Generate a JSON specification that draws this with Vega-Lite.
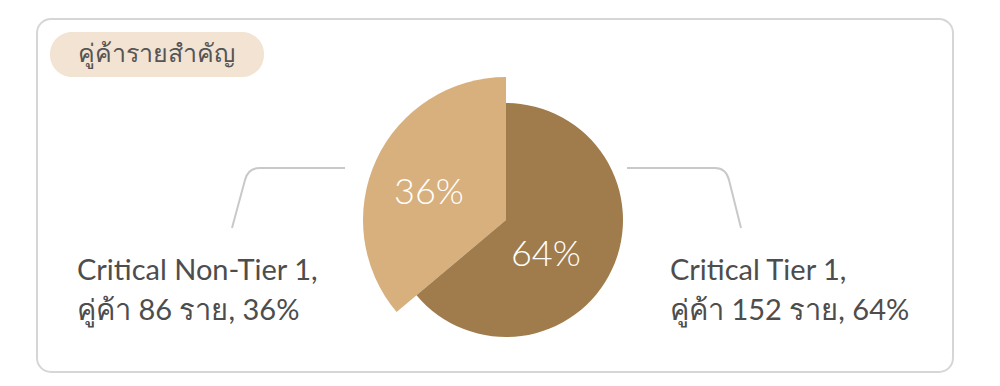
{
  "$schema": "https://vega.github.io/schema/vega-lite/v6.json",
  "autosize": {"type": "none"},
  "width": 916,
  "height": 353,
  "padding": {"left": 37, "top": 19, "right": 47, "bottom": 14},
  "background": "white",
  "view": {"stroke": "#d6d6d6", "strokeWidth": 2, "cornerRadius": 14, "fill": "white"},
  "config": {
    "view": {"stroke": "#d6d6d6", "strokeWidth": 2, "cornerRadius": 14},
    "font": "Lato, Noto Sans, sans-serif"
  },
  "data": {
    "values": [
      {"tier": "Critical Tier 1", "count": 152, "pct": 64},
      {"tier": "Critical Non-Tier 1", "count": 86, "pct": 36}
    ]
  },
  "transform": [
    {"calculate": "datum.pct + '%'", "as": "pctLabel"},
    {"calculate": "[datum.tier + ',', 'คู่ค้า ' + datum.count + ' ราย, ' + datum.pct + '%']", "as": "label"}
  ],
  "layer": [
    {
      "mark": {"type": "point", "shape": "M -0.322 -0.104 L -0.492 -0.104 Q -0.516 -0.104 -0.522 -0.08 L -0.548 0.016 M 0.242 -0.104 L 0.418 -0.104 Q 0.44 -0.104 0.446 -0.08 L 0.47 0.016", "size": 1000000, "filled": false, "stroke": "#c9c9c9", "strokeWidth": 2, "x": {"expr": "width/2+11"}, "y": {"expr": "height/2+24.5"}},
      "encoding": {
        "opacity": {"condition": {"test": "datum.tier === 'Critical Tier 1'", "value": 1}, "value": 0}
      }
    },
    {
      "mark": {"type": "arc", "outerRadius": 143, "x": {"expr": "width/2+11"}, "y": {"expr": "height/2+24.5"}},
      "encoding": {
        "theta": {"field": "count", "type": "quantitative", "stack": true},
        "order": {"field": "count", "sort": "descending"},
        "color": {
          "field": "tier", "type": "nominal",
          "scale": {"domain": ["Critical Tier 1", "Critical Non-Tier 1"], "range": ["#a07c4c", "#d8b07e"]},
          "legend": {
            "values": [],
            "title": "\u2800คู่ค้ารายสำคัญ\u2800",
            "orient": "top-left",
            "offset": 13,
            "fillColor": "#f3e3d2",
            "cornerRadius": 22,
            "padding": 10,
            "titleFontSize": 25,
            "titleLimit": 500,
            "titleFont": "Noto Sans, DejaVu Sans, sans-serif",
            "titleFontWeight": "normal",
            "titleColor": "#555555",
            "titlePadding": 0
          }
        },
        "opacity": {"condition": {"test": "datum.tier === 'Critical Non-Tier 1'", "value": 1}, "value": 0}
      }
    },
    {
      "mark": {"type": "arc", "outerRadius": 117, "x": {"expr": "width/2+11"}, "y": {"expr": "height/2+24.5"}},
      "encoding": {
        "theta": {"field": "count", "type": "quantitative", "stack": true},
        "order": {"field": "count", "sort": "descending"},
        "color": {"field": "tier", "type": "nominal"},
        "opacity": {"condition": {"test": "datum.tier === 'Critical Tier 1'", "value": 1}, "value": 0}
      }
    },
    {
      "mark": {"type": "text", "radius": 55, "fontSize": 36, "fontWeight": 300, "fill": "white", "x": {"expr": "width/2+11"}, "y": {"expr": "height/2+24.5"}, "dx": -10, "dy": 12},
      "encoding": {
        "theta": {"field": "count", "type": "quantitative", "stack": true},
        "order": {"field": "count", "sort": "descending"},
        "text": {"field": "pctLabel"},
        "opacity": {"condition": {"test": "datum.tier === 'Critical Tier 1'", "value": 1}, "value": 0}
      }
    },
    {
      "mark": {"type": "text", "radius": 85, "fontSize": 36, "fontWeight": 300, "fill": "white", "x": {"expr": "width/2+11"}, "y": {"expr": "height/2+24.5"}, "dx": 0, "dy": 9},
      "encoding": {
        "theta": {"field": "count", "type": "quantitative", "stack": true},
        "order": {"field": "count", "sort": "descending"},
        "text": {"field": "pctLabel"},
        "opacity": {"condition": {"test": "datum.tier === 'Critical Non-Tier 1'", "value": 1}, "value": 0}
      }
    },
    {
      "mark": {"type": "text", "align": "left", "baseline": "middle", "fontSize": 29, "fontWeight": "normal", "lineHeight": 40, "fill": "#4d4d4d", "x": {"expr": "width/2+11"}, "y": {"expr": "height/2+24.5"}, "dx": -429, "dy": 51},
      "encoding": {
        "text": {"field": "label"},
        "opacity": {"condition": {"test": "datum.tier === 'Critical Non-Tier 1'", "value": 1}, "value": 0}
      }
    },
    {
      "mark": {"type": "text", "align": "left", "baseline": "middle", "fontSize": 29, "fontWeight": "normal", "lineHeight": 40, "fill": "#4d4d4d", "x": {"expr": "width/2+11"}, "y": {"expr": "height/2+24.5"}, "dx": 164, "dy": 51},
      "encoding": {
        "text": {"field": "label"},
        "opacity": {"condition": {"test": "datum.tier === 'Critical Tier 1'", "value": 1}, "value": 0}
      }
    }
  ]
}
